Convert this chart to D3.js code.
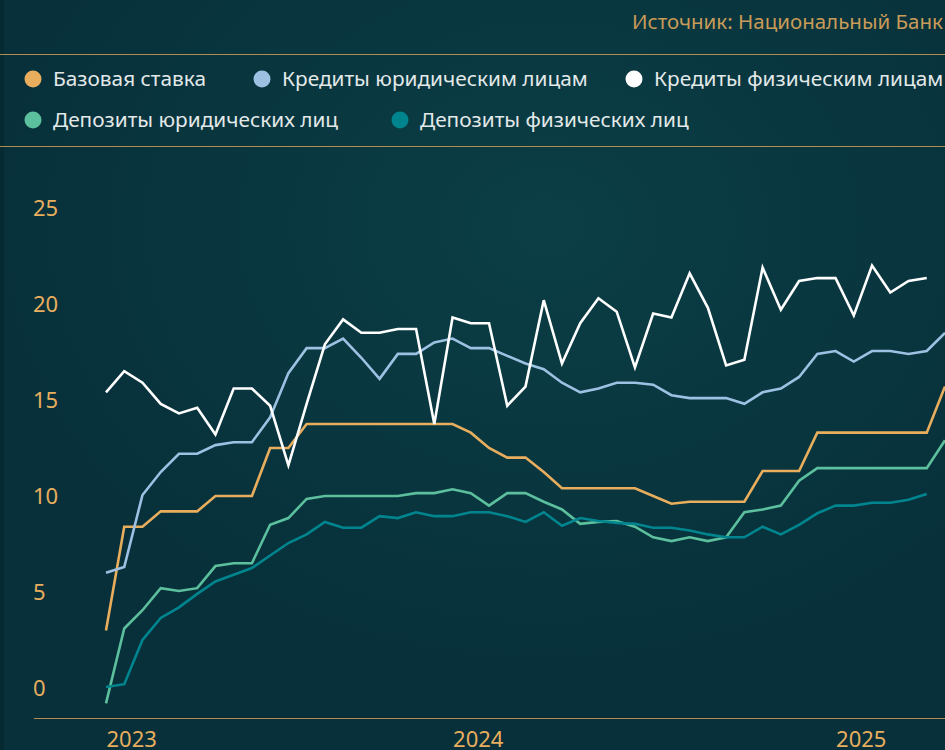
<!DOCTYPE html>
<html>
<head>
  <meta charset="utf-8">
  <title>Ставки</title>
  <style>
    body {
      margin: 0;
      padding: 0;
      background-color: #07303a;
      overflow: hidden;
    }

    svg text {
      font-family: "Noto Sans", "Open Sans", sans-serif;
    }
  </style>
</head>
<body>
  <div id="chart"></div>

  <script src="https://d3js.org/d3.v7.min.js"></script>
  <script>
    // periods (one entry per observation), tick labels shown on the axis
    var periods = [
      "2023-01", "2023-02", "2023-03", "2023-04", "2023-05", "2023-06", "2023-07", "2023-08", "2023-09", "2023-10",
      "2023-11", "2023-12", "2023-13", "2023-14", "2023-15", "2023-16", "2023-17", "2023-18", "2023-19",
      "2024-01", "2024-02", "2024-03", "2024-04", "2024-05", "2024-06", "2024-07", "2024-08", "2024-09", "2024-10",
      "2024-11", "2024-12", "2024-13", "2024-14", "2024-15", "2024-16", "2024-17", "2024-18", "2024-19", "2024-20", "2024-21",
      "2025-01", "2025-02", "2025-03", "2025-04", "2025-05", "2025-06", "2025-07"
    ];
    var yearTicks = ["2023-01", "2024-01", "2025-01"];
    var yTicks = [0, 5, 10, 15, 20, 25];

    var baseRate = [3.0, 8.4, 8.4, 9.2, 9.2, 9.2, 10.0, 10.0, 10.0, 12.5,
      12.5, 13.75, 13.75, 13.75, 13.75, 13.75, 13.75, 13.75, 13.75,
      13.75, 13.3, 12.5, 12.0, 12.0, 11.25, 10.4, 10.4, 10.4, 10.4,
      10.4, 10.0, 9.6, 9.7, 9.7, 9.7, 9.7, 11.3, 11.3, 11.3, 13.3,
      13.3, 13.3, 13.3, 13.3, 13.3, 13.3, 15.7];

    var loansCorp = [6.0, 6.3, 10.05, 11.25, 12.2, 12.2, 12.65, 12.8, 12.8, 14.1,
      16.4, 17.7, 17.7, 18.2, 17.2, 16.1, 17.4, 17.4, 18.0,
      18.2, 17.7, 17.7, 17.3, 16.9, 16.6, 15.9, 15.4, 15.6, 15.9,
      15.9, 15.8, 15.25, 15.1, 15.1, 15.1, 14.8, 15.4, 15.6, 16.2, 17.4,
      17.55, 17.0, 17.55, 17.55, 17.4, 17.55, 18.5];

    var loansRetail = [15.4, 16.5, 15.9, 14.8, 14.3, 14.6, 13.2, 15.6, 15.6, 14.7,
      11.6, 14.8, 17.9, 19.2, 18.5, 18.5, 18.7, 18.7, 13.75,
      19.3, 19.0, 19.0, 14.7, 15.7, 20.2, 16.9, 19.0, 20.3, 19.6,
      16.7, 19.5, 19.3, 21.6, 19.8, 16.8, 17.1, 21.9, 19.7, 21.2, 21.35,
      21.35, 19.4, 22.0, 20.6, 21.2, 21.35, null];

    var depositsCorp = [-0.8, 3.1, 4.05, 5.2, 5.05, 5.2, 6.35, 6.5, 6.5, 8.5,
      8.85, 9.85, 10.0, 10.0, 10.0, 10.0, 10.0, 10.15, 10.15,
      10.35, 10.15, 9.5, 10.15, 10.15, 9.7, 9.3, 8.55, 8.65, 8.7,
      8.4, 7.85, 7.65, 7.85, 7.65, 7.85, 9.15, 9.3, 9.5, 10.8, 11.45,
      11.45, 11.45, 11.45, 11.45, 11.45, 11.45, 12.9];

    var depositsRetail = [0.05, 0.2, 2.5, 3.65, 4.2, 4.9, 5.55, 5.9, 6.25, 6.9,
      7.55, 8.0, 8.65, 8.35, 8.35, 8.95, 8.85, 9.15, 8.95,
      8.95, 9.15, 9.15, 8.95, 8.65, 9.15, 8.45, 8.85, 8.7, 8.6,
      8.55, 8.35, 8.35, 8.2, 8.0, 7.85, 7.85, 8.4, 8.0, 8.5, 9.1,
      9.5, 9.5, 9.65, 9.65, 9.8, 10.1, null];

    var series = [
      { name: "Базовая ставка", values: baseRate, color: "#e8ae5e" },
      { name: "Кредиты юридическим лицам", values: loansCorp, color: "#9dc1e2" },
      { name: "Кредиты физическим лицам", values: loansRetail, color: "#ffffff" },
      { name: "Депозиты юридических лиц", values: depositsCorp, color: "#5cbf9d" },
      { name: "Депозиты физических лиц", values: depositsRetail, color: "#00858f" }
    ];

    var width = 945, height = 750;
    var gold = "#b38c4f";

    var svg = d3.select("#chart")
      .append("svg")
      .attr("width", width)
      .attr("height", height);

    var defs = svg.append("defs");
    var grad = defs.append("radialGradient")
      .attr("id", "bg")
      .attr("cx", "0.58").attr("cy", "0.3").attr("r", "0.6");
    grad.append("stop").attr("offset", "0%").attr("stop-color", "#0b3e45");
    grad.append("stop").attr("offset", "100%").attr("stop-color", "#07303a");

    svg.append("rect")
      .attr("width", width)
      .attr("height", height)
      .attr("fill", "url(#bg)");

    svg.append("rect")
      .attr("width", 4)
      .attr("height", height)
      .attr("fill", "#052a31");

    // source
    svg.append("text")
      .attr("x", 943)
      .attr("y", 29)
      .attr("text-anchor", "end")
      .attr("fill", "#c99b58")
      .style("font-size", "20.5px")
      .text("Источник: Национальный Банк");

    svg.append("line")
      .attr("x1", 0).attr("x2", width)
      .attr("y1", 54.5).attr("y2", 54.5)
      .attr("stroke", gold).attr("stroke-width", 1.2);

    svg.append("line")
      .attr("x1", 0).attr("x2", width)
      .attr("y1", 146.5).attr("y2", 146.5)
      .attr("stroke", gold).attr("stroke-width", 1.2);

    // legend
    var legendPos = [[33, 79], [262, 79], [634, 79], [33, 120], [400, 120]];
    var legend = svg.append("g");
    series.forEach(function (s, i) {
      var g = legend.append("g")
        .attr("transform", "translate(" + legendPos[i][0] + "," + legendPos[i][1] + ")");
      g.append("circle").attr("r", 8.5).attr("fill", s.color);
      g.append("text")
        .attr("x", 20)
        .attr("dy", "0.35em")
        .attr("fill", "#e3e9e9")
        .style("font-size", "20.8px")
        .text(s.name);
    });

    // scales
    var x = d3.scalePoint()
      .domain(periods)
      .range([106, 945]);

    var y = d3.scaleLinear()
      .domain([-1.5625, 25])
      .range([718, 208]);

    // y labels
    svg.append("g")
      .selectAll("text")
      .data(yTicks)
      .enter()
      .append("text")
      .attr("x", 33)
      .attr("y", function (d) { return y(d); })
      .attr("dy", "0.35em")
      .attr("fill", "#e8ae5e")
      .style("font-size", "22px")
      .text(function (d) { return d; });

    // x axis
    var xAxis = svg.append("g")
      .attr("transform", "translate(0,718)")
      .call(d3.axisBottom(x)
        .tickValues(yearTicks)
        .tickSize(0)
        .tickFormat(function (d) { return d.slice(0, 4); }));
    xAxis.select(".domain").remove();
    xAxis.selectAll("text")
      .attr("text-anchor", "start")
      .attr("y", 21)
      .attr("dy", "0.35em")
      .attr("fill", "#e8ae5e")
      .style("font-size", "22px")
      .style("font-family", "\"Noto Sans\", sans-serif");

    svg.append("line")
      .attr("x1", 34).attr("x2", width)
      .attr("y1", 718.5).attr("y2", 718.5)
      .attr("stroke", gold).attr("stroke-width", 1.2);

    // lines
    var line = d3.line()
      .defined(function (d) { return d != null; })
      .x(function (d, i) { return x(periods[i]); })
      .y(function (d) { return y(d); });

    var drawOrder = [3, 4, 0, 1, 2];
    drawOrder.forEach(function (k) {
      svg.append("path")
        .datum(series[k].values)
        .attr("d", line)
        .attr("fill", "none")
        .attr("stroke", series[k].color)
        .attr("stroke-width", 2.6)
        .attr("stroke-linejoin", "miter");
    });
  </script>
</body>
</html>
